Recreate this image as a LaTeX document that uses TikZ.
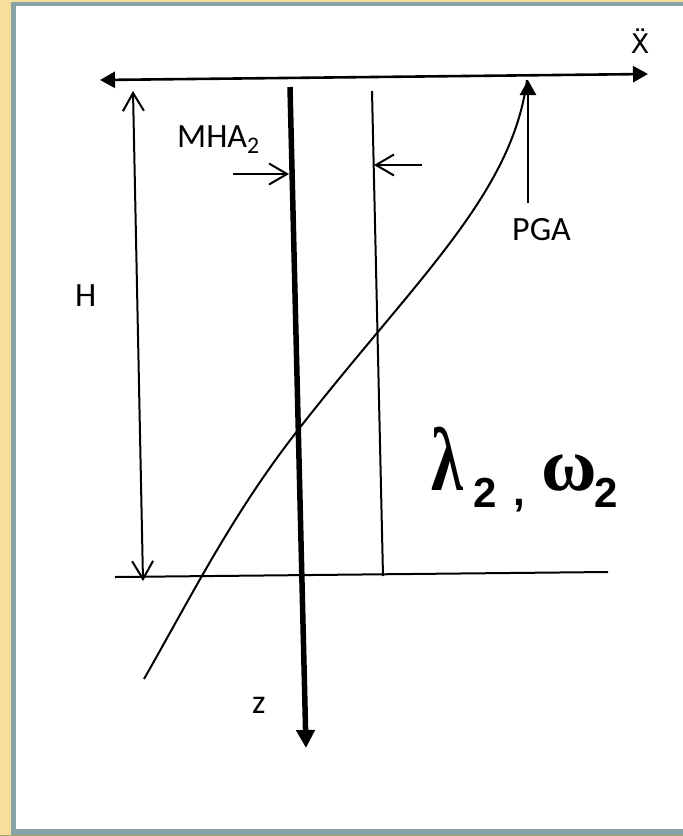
\documentclass[tikz,border=0pt]{standalone}
\usepackage{fontspec}
\setmainfont{Carlito}
\newfontfamily\greekfont{Liberation Serif}
\newfontfamily\arialfont{Liberation Sans}
\newfontfamily\dejavufont{DejaVu Sans}
\usetikzlibrary{arrows.meta}
\definecolor{framey}{HTML}{F6DE9C}
\definecolor{frameg}{HTML}{88A2A7}
\definecolor{frameo}{HTML}{A3A56A}
\tikzset{
  axisline/.style={line width=2.6pt},
  thinline/.style={line width=2pt},
  thickline/.style={line width=5.5pt},
  openhead/.style={-{Straight Barb[length=18pt,width=21pt,line width=2pt]}},
  fillhead/.style={-{Triangle[length=15pt,width=16pt]}},
  lbl/.style={inner sep=0pt,anchor=base west,font=\fontsize{34}{40}\selectfont},
  greek/.style={inner sep=0pt,anchor=base west,font=\greekfont\bfseries\fontsize{76}{80}\selectfont},
  subs/.style={inner sep=0pt,anchor=base west,font=\arialfont\bfseries\fontsize{42}{46}\selectfont}
}
\begin{document}
\begin{tikzpicture}[x=1pt,y=-1pt]
\useasboundingbox (0,0) rectangle (683,836);
\fill[frameo] (0,0) rectangle (683,836);
\fill[framey] (0,0) rectangle (683,835);
\fill[frameg] (11,2) rectangle (683,835);
\fill[white] (16,6) rectangle (683,829);

% coordinates
\coordinate (axL) at (100,80);
\coordinate (axR) at (648,74);
\coordinate (hT) at (133,91);
\coordinate (hB) at (143,581);
\coordinate (zT) at (290,87);
\coordinate (zB) at (306,748);
\coordinate (vT) at (372,91);
\coordinate (vB) at (383,576);
\coordinate (bL) at (115,577);
\coordinate (bR) at (608,572);
\coordinate (mS) at (233,174);
\coordinate (mE) at (289,174);
\coordinate (rS) at (422,165);
\coordinate (rE) at (374,165);
\coordinate (pS) at (528,203);
\coordinate (pE) at (528,80);
\coordinate (cA) at (144,679);
\coordinate (cM) at (298,430);
\coordinate (cB) at (527,80);

% top axis
\draw[axisline,{Triangle[length=15pt,width=16pt]}-{Triangle[length=15pt,width=16pt]}] (axL) -- (axR);
% H dimension
\draw[thinline,{Straight Barb[length=18pt,width=21pt,line width=2pt]}-{Straight Barb[length=18pt,width=21pt,line width=2pt]}] (hT) -- (hB);
% bottom line
\draw[thinline] (bL) -- (bR);
% thin vertical
\draw[thinline] (vT) -- (vB);
% thick z axis
\draw[thickline,-{Triangle[length=18pt,width=18pt]}] (zT) -- (zB);
% curve
\draw[thinline] (cA) .. controls (192.5,594) and (233,513) .. (cM)
  .. controls (415,280) and (512,195) .. (cB);
% MHA arrows
\draw[thinline,openhead] (mS) -- (mE);
\draw[thinline,openhead] (rS) -- (rE);
% PGA arrow
\draw[thinline,line width=2.5pt,fillhead] (pS) -- (pE);

% labels
\node[inner sep=0pt,anchor=base,font=\dejavufont\fontsize{27}{30}\selectfont] (xdd) at (640,53) {Ẍ};
\node[lbl] (mha) at (177,147) {MHA\textsubscript{2}};
\node[lbl] (pga) at (512,240) {PGA};
\node[lbl] (hl) at (75,306) {H};
\node[lbl] (zl) at (252,713) {z};

\node[greek,font=\greekfont\bfseries\fontsize{90}{94}\selectfont] (lam) at (431,490) {\scalebox{0.72}[1]{λ}};
\node[subs] (l2) at (473,507) {2};
\node[subs] (cm) at (513,505) {,};
\node[greek] (om) at (541,490) {ω};
\node[subs] (o2) at (594,507) {2};
\end{tikzpicture}
\end{document}
